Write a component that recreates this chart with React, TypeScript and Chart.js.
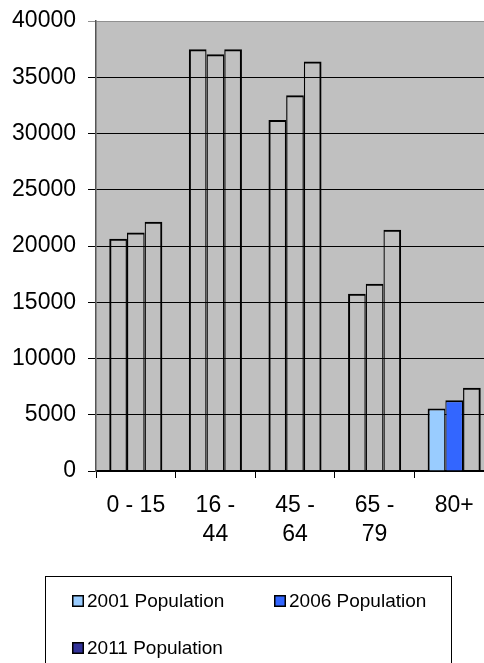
import React, { useEffect, useRef } from "react";
import { Chart, registerables } from "chart.js";

Chart.register(...registerables);

const categories: (string | string[])[] = ["0 - 15", ["16 -", "44"], ["45 -", "64"], ["65 -", "79"], "80+"];
const seriesNames = ["2001 Population", "2006 Population", "2011 Population"];
const pop2001 = [20650, 37500, 31200, 15750, 5550];
const pop2006 = [21200, 37050, 33400, 16650, 6300];
const pop2011 = [22150, 37500, 36400, 21450, 7400];
const legendColors = ["#99CCFF", "#3366FF", "#333399"];
const highlightedCategory = 4;
const yMin = 0;
const yMax = 40000;
const yStep = 5000;

const FONT = '"Liberation Sans", Arial, sans-serif';

const plotBackground = {
  id: "plotBackground",
  beforeDraw(chart: any) {
    const { ctx, chartArea } = chart;
    ctx.save();
    ctx.fillStyle = "#C0C0C0";
    ctx.fillRect(chartArea.left, chartArea.top, chartArea.right - chartArea.left, chartArea.bottom - chartArea.top);
    ctx.restore();
  },
};

const boxLegend = {
  id: "boxLegend",
  afterDraw(chart: any) {
    const { ctx } = chart;
    ctx.save();
    ctx.strokeStyle = "#000";
    ctx.lineWidth = 1;
    ctx.strokeRect(45.5, 576.5, 406, 120);
    ctx.font = `19px ${FONT}`;
    ctx.textBaseline = "middle";
    ctx.textAlign = "left";
    const slots = [
      { x: 72, y: 601 },
      { x: 274, y: 601 },
      { x: 72, y: 648 },
    ];
    seriesNames.forEach((name, i) => {
      const s = slots[i];
      ctx.fillStyle = legendColors[i];
      ctx.fillRect(s.x, s.y - 6, 12, 12);
      ctx.strokeStyle = "#000";
      ctx.lineWidth = 1.5;
      ctx.strokeRect(s.x + 0.75, s.y - 5.25, 10.5, 10.5);
      ctx.fillStyle = "#000";
      ctx.fillText(name, s.x + 15, s.y + 1);
    });
    ctx.restore();
  },
};

function fillsFor(color: string | null) {
  return categories.map((_, i) => (color && i === highlightedCategory ? color : "rgba(0,0,0,0)"));
}

const edgeFirst = { top: 2, left: 2, right: 1.2, bottom: 0 };
const edgeMiddle = { top: 2, left: 1.2, right: 1.2, bottom: 0 };
const edgeLast = { top: 2, left: 1.2, right: 2, bottom: 0 };

export default function App() {
  const ref = useRef<HTMLCanvasElement | null>(null);

  useEffect(() => {
    if (!ref.current) return;
    const chart = new Chart(ref.current, {
      type: "bar",
      data: {
        labels: categories,
        datasets: [
          { label: seriesNames[0], data: pop2001, backgroundColor: fillsFor(legendColors[0]), borderColor: "#000", borderWidth: edgeFirst, borderSkipped: false },
          { label: seriesNames[1], data: pop2006, backgroundColor: fillsFor(legendColors[1]), borderColor: "#000", borderWidth: edgeMiddle, borderSkipped: false },
          { label: seriesNames[2], data: pop2011, backgroundColor: fillsFor(null), borderColor: "#000", borderWidth: edgeLast, borderSkipped: false },
        ],
      },
      options: {
        animation: false,
        responsive: false,
        devicePixelRatio: 1,
        layout: { padding: { top: 21, right: 6, left: 0, bottom: 0 } },
        datasets: { bar: { categoryPercentage: 0.667, barPercentage: 1, inflateAmount: 0 } },
        plugins: { legend: { display: false }, tooltip: { enabled: false } },
        scales: {
          x: {
            afterFit: (scale: any) => {
              scale.height = 192;
            },
            grid: { offset: true, drawOnChartArea: false, drawTicks: true, tickLength: 7, color: "#000", lineWidth: 1 },
            border: { color: "#000", width: 1.5 },
            ticks: {
              color: "#000",
              font: { family: FONT, size: 23, lineHeight: 1.26 },
              padding: 13,
              maxRotation: 0,
              autoSkip: false,
            },
          },
          y: {
            min: yMin,
            max: yMax,
            afterFit: (scale: any) => {
              scale.width = 96;
            },
            grid: {
              color: (c: any) => (c.tick && c.tick.value === yMax ? "#909090" : "#000"),
              lineWidth: 1,
              tickLength: 8,
            },
            border: { color: "#555", width: 1.5 },
            ticks: {
              stepSize: yStep,
              color: "#000",
              font: { family: FONT, size: 23, lineHeight: 0.5 },
              padding: 12,
              callback: (v: any) => String(v),
            },
          },
        },
      },
      plugins: [plotBackground, boxLegend],
    });
    return () => chart.destroy();
  }, []);

  return (
    <div style={{ position: "absolute", left: 0, top: 0, width: 484, height: 663, overflow: "hidden", background: "#fff" }}>
      <canvas ref={ref} width={500} height={663} style={{ width: 500, height: 663, display: "block" }} />
    </div>
  );
}
